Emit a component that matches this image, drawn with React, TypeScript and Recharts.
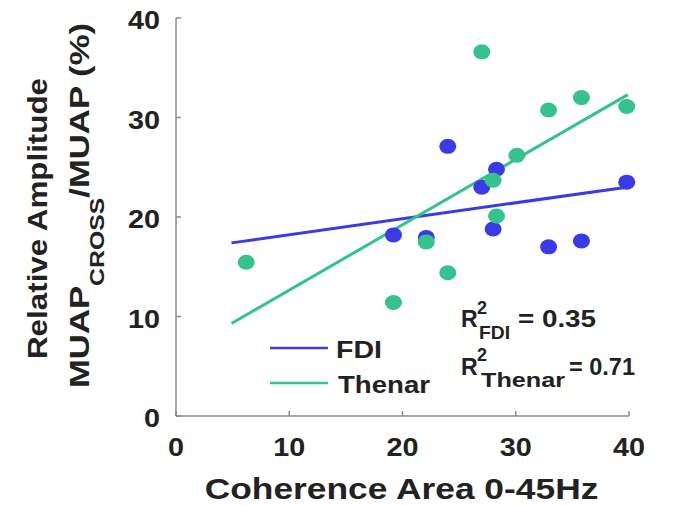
import React from 'react';
import { ScatterChart, Scatter, XAxis, YAxis, ReferenceLine, Customized } from 'recharts';

// ---- data ----
const xTicks = [0, 10, 20, 30, 40];
const yTicks = [0, 10, 20, 30, 40];

const fdiX = [24.0, 28.3, 27.0, 39.8, 19.2, 22.1, 28.0, 32.9, 35.8];
const fdiY = [27.1, 24.8, 23.0, 23.5, 18.2, 17.95, 18.8, 17.0, 17.6];

const thenarX = [27.0, 35.8, 32.9, 39.8, 30.1, 28.0, 28.3, 22.1, 24.0, 19.2, 6.2];
const thenarY = [36.6, 32.0, 30.75, 31.1, 26.2, 23.7, 20.1, 17.5, 14.4, 11.4, 15.45];

const fdiFitX = [4.9, 39.8];
const fdiFitY = [17.4, 23.0];
const thenarFitX = [4.9, 39.9];
const thenarFitY = [9.3, 32.3];

const seriesNames = ['FDI', 'Thenar'];
const r2Values = ['0.35', '0.71'];
const xLabel = 'Coherence Area 0-45Hz';
const yLabelLine1 = 'Relative Amplitude';
const yLabelMain = 'MUAP';
const yLabelSub = 'CROSS';
const yLabelRest = '/MUAP (%)';

// ---- styles ----
const BLUE = '#3b3be6';
const GREEN = '#35c28c';
const AXIS = '#8a8a8a';
const TEXT = '#222222';
const FONT = '"Liberation Sans", Arial, sans-serif';

const fdiData = fdiX.map((x, i) => ({ x, y: fdiY[i] }));
const thenarData = thenarX.map((x, i) => ({ x, y: thenarY[i] }));
const fdiFit = fdiFitX.map((x, i) => ({ x, y: fdiFitY[i] }));
const thenarFit = thenarFitX.map((x, i) => ({ x, y: thenarFitY[i] }));

const makeDot = (color: string) => (props: any) => (
  <ellipse cx={props.cx} cy={props.cy} rx={8.5} ry={7.5} fill={color} />
);

const XTick = (props: any) => {
  const { x, y, payload } = props;
  return (
    <g>
      <line x1={x} x2={x} y1={y} y2={y - 5} stroke={AXIS} strokeWidth={1.5} />
      <text
        transform={`translate(${x},${y + 40}) scale(1.15,1)`}
        textAnchor="middle"
        fontSize={25}
        fontWeight={700}
        fontFamily={FONT}
        fill={TEXT}
      >
        {payload.value}
      </text>
    </g>
  );
};

const YTick = (props: any) => {
  const { x, y, payload } = props;
  return (
    <g>
      <line x1={x} x2={x + 5} y1={y} y2={y} stroke={AXIS} strokeWidth={1.5} />
      <text
        transform={`translate(${x - 16},${y + 11}) scale(1.15,1)`}
        textAnchor="end"
        fontSize={25}
        fontWeight={700}
        fontFamily={FONT}
        fill={TEXT}
      >
        {payload.value}
      </text>
    </g>
  );
};

const Overlay = () => (
  <g fontFamily={FONT} fontWeight={700} fill={TEXT}>
    {/* y-axis label */}
    <text transform="translate(47,218.5) rotate(-90) scale(1.12,1)" textAnchor="middle" fontSize={28}>
      {yLabelLine1}
    </text>
    <text transform="translate(88.5,205.5) rotate(-90) scale(1.24,1)" textAnchor="middle" fontSize={28}>
      <tspan>{yLabelMain}</tspan>
      <tspan fontSize={20} dy={15}>{yLabelSub}</tspan>
      <tspan dy={-15}>{yLabelRest}</tspan>
    </text>
    {/* x-axis label */}
    <text transform="translate(401.5,499) scale(1.22,1)" textAnchor="middle" fontSize={29}>
      {xLabel}
    </text>
    {/* legend */}
    <line x1={270} x2={328} y1={348} y2={348} stroke={BLUE} strokeWidth={2.5} />
    <text x={336} y={358} fontSize={24} textLength={46} lengthAdjust="spacingAndGlyphs">{seriesNames[0]}</text>
    <line x1={270} x2={328} y1={383} y2={383} stroke={GREEN} strokeWidth={2.5} />
    <text x={338} y={393} fontSize={24} textLength={92} lengthAdjust="spacingAndGlyphs">{seriesNames[1]}</text>
    {/* R^2 annotations */}
    <text x={461} y={327} fontSize={23}>R</text>
    <text x={477} y={314} fontSize={18}>2</text>
    <text x={479} y={339} fontSize={19} textLength={31} lengthAdjust="spacingAndGlyphs">{seriesNames[0]}</text>
    <text x={518} y={327} fontSize={23} textLength={78} lengthAdjust="spacingAndGlyphs">{`= ${r2Values[0]}`}</text>
    <text x={461} y={375} fontSize={23}>R</text>
    <text x={477} y={361} fontSize={18}>2</text>
    <text x={481} y={387} fontSize={20} textLength={84} lengthAdjust="spacingAndGlyphs">{seriesNames[1]}</text>
    <text x={569} y={375} fontSize={23} textLength={66} lengthAdjust="spacingAndGlyphs">{`= ${r2Values[1]}`}</text>
  </g>
);

export default function App() {
  return (
    <div style={{ position: 'absolute', left: 0, top: 0, width: 674, height: 506, background: '#fff' }}>
      <ScatterChart width={674} height={506} margin={{ top: 18, right: 45, bottom: 50, left: 116 }}>
        <XAxis
          type="number"
          dataKey="x"
          domain={[0, 40]}
          ticks={xTicks}
          height={40}
          tickSize={0}
          tickMargin={0}
          tickLine={false}
          axisLine={{ stroke: AXIS, strokeWidth: 1.5 }}
          tick={<XTick />}
          interval={0}
        />
        <YAxis
          type="number"
          dataKey="y"
          domain={[0, 40]}
          ticks={yTicks}
          width={60}
          tickSize={0}
          tickMargin={0}
          tickLine={false}
          axisLine={{ stroke: AXIS, strokeWidth: 1.5 }}
          tick={<YTick />}
          interval={0}
        />
        <Scatter name={seriesNames[0]} data={fdiData} fill={BLUE} shape={makeDot(BLUE)} isAnimationActive={false} />
        <Scatter name={seriesNames[1]} data={thenarData} fill={GREEN} shape={makeDot(GREEN)} isAnimationActive={false} />
        <ReferenceLine segment={fdiFit} stroke={BLUE} strokeWidth={3} />
        <ReferenceLine segment={thenarFit} stroke={GREEN} strokeWidth={3} />
        <Customized component={Overlay} />
      </ScatterChart>
    </div>
  );
}
